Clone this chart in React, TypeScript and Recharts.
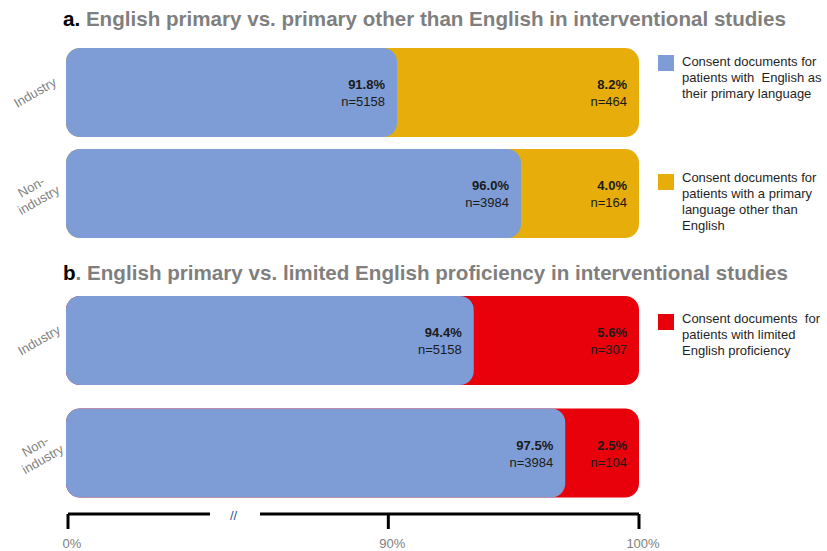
import { Bar, BarChart, LabelList, LineChart, XAxis, YAxis } from "recharts";

// rows
const groups = ["Industry", "Non-industry"];

// a. English primary vs. primary other than English
const englishPctA = [91.8, 96.0];
const englishNA = [5158, 3984];
const otherPctA = [8.2, 4.0];
const otherNA = [464, 164];

// b. English primary vs. limited English proficiency
const englishPctB = [94.4, 97.5];
const englishNB = [5158, 3984];
const lepPctB = [5.6, 2.5];
const lepNB = [307, 104];

const axisTicks = [0, 90, 100];

const legendEnglish = ["Consent documents for", "patients with  English as", "their primary language"];
const legendOther = ["Consent documents for", "patients with a primary", "language other than", "English"];
const legendLep = ["Consent documents  for", "patients with limited", "English proficiency"];

const BLUE = "#7e9dd6";
const GOLD = "#e6ad0b";
const RED = "#e8000b";
const GREY = "#808080";
const FONT = "'Liberation Sans', Arial, sans-serif";

// broken axis: 0-90 squeezed, 90-100 stretched (brk = where 90 sits, in % of width)
const brokenScale = (brk: number) => (v: number) =>
  v <= 90 ? (v / 90) * brk : brk + ((v - 90) / 10) * (100 - brk);
const barPos = brokenScale(48.5);
const axisPos = brokenScale(56.1);

type Row = { group: string; mainPct: number; mainN: number; restPct: number; restN: number };

const rowsA: Row[] = groups.map((g, i) => ({
  group: g,
  mainPct: englishPctA[i],
  mainN: englishNA[i],
  restPct: otherPctA[i],
  restN: otherNA[i],
}));
const rowsB: Row[] = groups.map((g, i) => ({
  group: g,
  mainPct: englishPctB[i],
  mainN: englishNB[i],
  restPct: lepPctB[i],
  restN: lepNB[i],
}));

function pairLabel(props: any, pct: number, n: number, pad: number) {
  const { x, y, width, height } = props;
  const rx = x + width - pad;
  const cy = y + height / 2;
  return (
    <g fontFamily={FONT} fontSize={13} fill="#1a1a1a">
      <text x={rx} y={cy - 8} textAnchor="end" dominantBaseline="central" fontWeight="bold">
        {pct.toFixed(1)}%
      </text>
      <text x={rx} y={cy + 9} textAnchor="end" dominantBaseline="central">
        n={n}
      </text>
    </g>
  );
}

function groupTick(props: any, cx: number) {
  const { y, payload } = props;
  const parts = payload.value === "Non-industry" ? ["Non-", "industry"] : [payload.value];
  const start = -((parts.length - 1) * 15) / 2;
  return (
    <g transform={`translate(${cx},${y}) rotate(-30)`}>
      {parts.map((p: string, i: number) => (
        <text
          key={p}
          x={0}
          y={start + i * 15}
          textAnchor="middle"
          dominantBaseline="central"
          fontFamily={FONT}
          fontSize={13}
          fill={GREY}
        >
          {p}
        </text>
      ))}
    </g>
  );
}

function Panel({ rows, restColor, top, height, marginTop, tickX }: any) {
  return (
    <div style={{ position: "absolute", left: 0, top }}>
      <BarChart
        width={827}
        height={height}
        data={rows}
        layout="vertical"
        margin={{ top: marginTop, right: 188, bottom: 6, left: 0 }}
      >
        <XAxis type="number" domain={[0, 100]} hide allowDataOverflow />
        <YAxis yAxisId="back" type="category" dataKey="group" hide />
        <YAxis
          yAxisId="front"
          type="category"
          dataKey="group"
          width={66}
          axisLine={false}
          tickLine={false}
          tick={(p: any) => groupTick(p, tickX)}
        />
        <Bar
          yAxisId="back"
          dataKey={(d: Row) => barPos(d.mainPct + d.restPct)}
          fill={restColor}
          barSize={89}
          radius={14}
          isAnimationActive={false}
        >
          <LabelList
            content={(p: any) => pairLabel(p, rows[p.index].restPct, rows[p.index].restN, 12)}
          />
        </Bar>
        <Bar
          yAxisId="front"
          dataKey={(d: Row) => barPos(d.mainPct)}
          fill={BLUE}
          barSize={89}
          radius={14}
          isAnimationActive={false}
        >
          <LabelList
            content={(p: any) => pairLabel(p, rows[p.index].mainPct, rows[p.index].mainN, 12)}
          />
        </Bar>
      </BarChart>
    </div>
  );
}

function LegendItem({ color, lines, squareTop, textTop }: any) {
  return (
    <>
      <div
        style={{ position: "absolute", left: 658, top: squareTop, width: 16, height: 16, background: color }}
      />
      <div
        style={{
          position: "absolute",
          left: 682,
          top: textTop,
          fontSize: 13,
          lineHeight: "16px",
          color: "#1f1f1f",
          whiteSpace: "pre",
        }}
      >
        {lines.join("\n")}
      </div>
    </>
  );
}

function Title({ top, lead, rest, width }: any) {
  return (
    <svg width={827} height={36} style={{ position: "absolute", left: 0, top }}>
      <text
        x={63}
        y={26}
        fontFamily={FONT}
        fontSize={21}
        fontWeight="bold"
        textLength={width}
        lengthAdjust="spacingAndGlyphs"
      >
        <tspan fill="#000">{lead}</tspan>
        <tspan fill="#7f7f7f">{rest}</tspan>
      </text>
    </svg>
  );
}

export default function App() {
  const axisData = axisTicks.map((t) => ({ pos: axisPos(t) }));
  return (
    <div
      style={{
        position: "absolute",
        left: 0,
        top: 0,
        width: 827,
        height: 551,
        overflow: "hidden",
        background: "#fff",
        fontFamily: FONT,
      }}
    >
      <Title top={0} lead="a." rest=" English primary vs. primary other than English in interventional studies" width={723} />
      <Title top={254} lead="b" rest=". English primary vs. limited English proficiency in interventional studies" width={725} />

      <Panel rows={rowsA} restColor={GOLD} top={0} height={250} marginTop={42} tickX={35} />
      <Panel rows={rowsB} restColor={RED} top={250} height={265} marginTop={34} tickX={39} />

      <LegendItem color={BLUE} lines={legendEnglish} squareTop={55} textTop={54} />
      <LegendItem color={GOLD} lines={legendOther} squareTop={174} textTop={170} />
      <LegendItem color={RED} lines={legendLep} squareTop={314} textTop={311} />

      <div style={{ position: "absolute", left: 0, top: 480 }}>
        <LineChart width={827} height={71} data={axisData} margin={{ top: 0, right: 188, bottom: 0, left: 68 }}>
          <XAxis
            type="number"
            dataKey="pos"
            domain={[0, 100]}
            ticks={axisTicks.map(axisPos)}
            interval={0}
            tickFormatter={(_v: number, i: number) => `${axisTicks[i]}%`}
            height={37}
            tickSize={15}
            tickMargin={10}
            axisLine={{ stroke: "#000", strokeWidth: 3, strokeDasharray: "142 50 1000" }}
            tickLine={{ stroke: "#000", strokeWidth: 3 }}
            tick={{ fill: GREY, fontSize: 13, fontFamily: FONT, dx: 4 }}
          />
          <YAxis hide />
        </LineChart>
      </div>
      <span
        style={{
          position: "absolute",
          left: 230,
          top: 509,
          fontSize: 13,
          lineHeight: "14px",
          color: "#2f5597",
        }}
      >
        //
      </span>
    </div>
  );
}
